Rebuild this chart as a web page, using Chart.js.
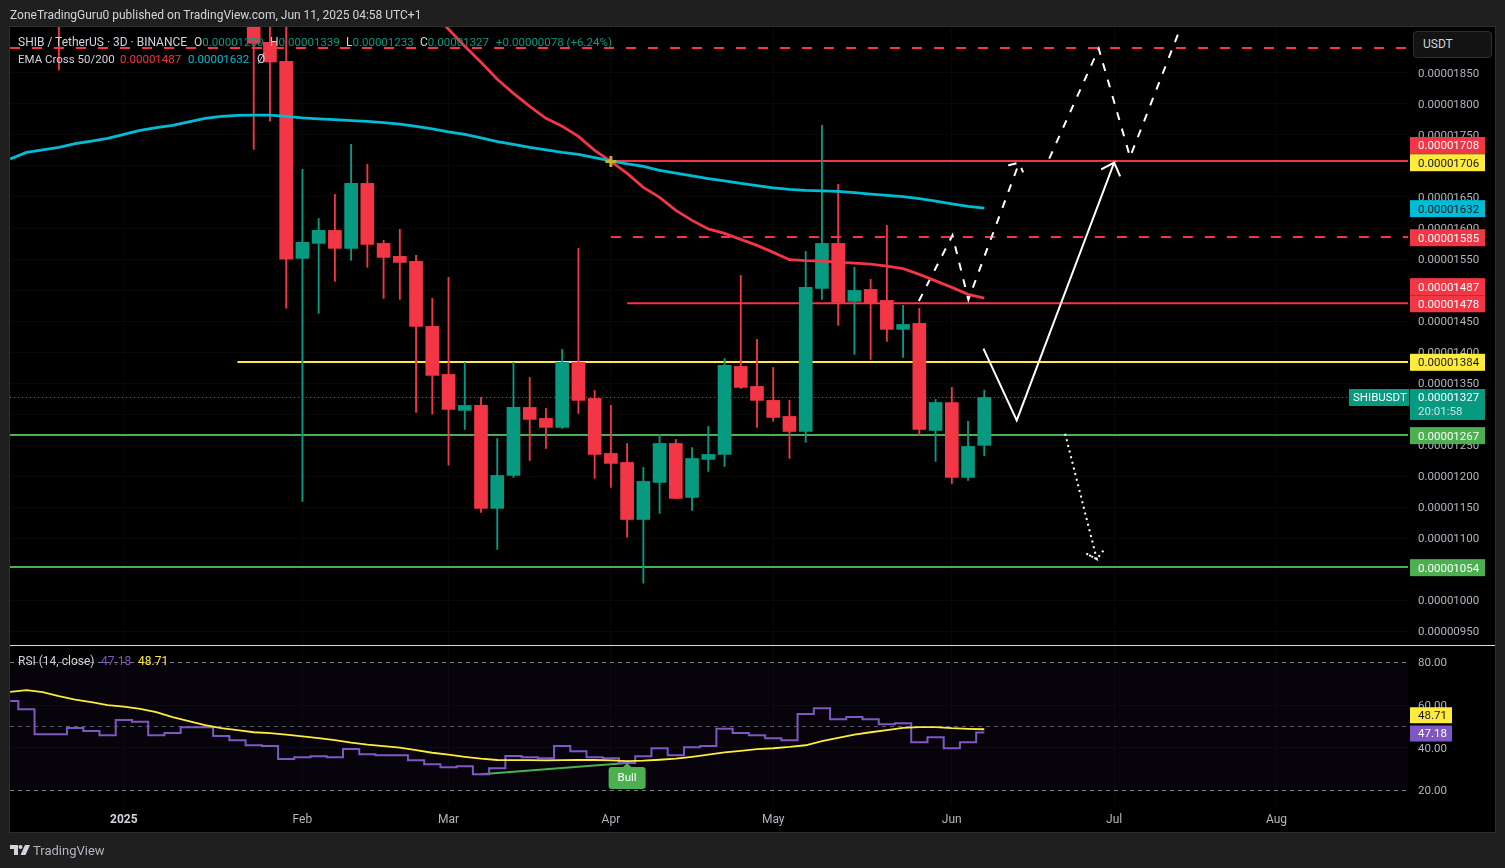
<!DOCTYPE html>
<html>
<head>
<meta charset="utf-8">
<title>SHIB / TetherUS</title>
<script src="https://cdn.jsdelivr.net/npm/chart.js@4"></script>
<style>
  html, body { margin: 0; padding: 0; background: #1f1f1f; width: 1505px; height: 868px; overflow: hidden; font-family: Roboto, sans-serif; }
  #frame { position: absolute; left: 9px; top: 26px; width: 1485px; height: 805px; background: #000; border: 1px solid #2e2e2e; }
  #chart { position: absolute; left: 0; top: 0; }
  .t { position: absolute; font-size: 12px; line-height: 14px; white-space: nowrap; color: #d1d4dc; }
  .v { font-size: 11.5px; }
  .g { color: #089981; font-size: 11.5px; }
  #sep { position: absolute; left: 10px; top: 645px; width: 1485px; height: 1px; background: #d9d9d9; }
  #unit { position: absolute; left: 1413px; top: 31px; width: 77px; height: 25px; background: #131313; border: 1px solid #2e2e2e; border-radius: 4px; color: #d1d4dc; font-size: 12px; line-height: 25px; text-indent: 9px; }
</style>
</head>
<body>
<div id="frame"></div>
<canvas id="chart" width="1505" height="868"></canvas>
<div id="sep"></div>
<div id="unit">USDT</div>

<div class="t" style="left:10px;top:8px">ZoneTradingGuru0 published on TradingView.com, Jun 11, 2025 04:58 UTC+1</div>

<div class="t" style="left:18px;top:35px">SHIB / TetherUS · 3D · BINANCE</div>
<div class="t" style="left:194px;top:35px">O<span class="g">0.00001250</span></div>
<div class="t" style="left:270px;top:35px">H<span class="g">0.00001339</span></div>
<div class="t" style="left:346px;top:35px">L<span class="g">0.00001233</span></div>
<div class="t" style="left:420px;top:35px">C<span class="g">0.00001327</span></div>
<div class="t g" style="left:496px;top:35px">+0.00000078 (+6.24%)</div>

<div class="t v" style="left:18px;top:52px">EMA Cross 50/200</div>
<div class="t v" style="left:120px;top:52px;color:#f23645">0.00001487</div>
<div class="t v" style="left:188px;top:52px;color:#00bcd4">0.00001632</div>
<div class="t" style="left:257px;top:52px">Ø</div>

<div class="t" style="left:18px;top:654px">RSI (14, close)</div>
<div class="t" style="left:101px;top:654px;color:#7e57c2">47.18</div>
<div class="t" style="left:138px;top:654px;color:#ffeb3b">48.71</div>

<svg style="position:absolute;left:10px;top:845px" width="20" height="10" viewBox="0 0 20 10">
  <path d="M0 0H8V10H4V4H0Z" fill="#d1d4dc"/><circle cx="10.5" cy="2" r="2" fill="#d1d4dc"/><path d="M15 0H20L15.5 10H10.5Z" fill="#d1d4dc"/>
</svg>
<div class="t" style="left:33px;top:844px;font-size:13px;color:#b2b5be">TradingView</div>

<script>
// Prices are in units of 0.00000001, the tick callback turns them back into real quotes.
// Each array has one entry per 3D bar, null where the bar is above the visible range.
const opens = [null, null, null, 2000, null, null, null, null, null, null, null, null, null, null, null,
  1950, 1899.1, 1868.5, 1551.1, 1575.2, 1596.2, 1567.2, 1671.9, 1575.2, 1554.3,
  1546.2, 1441.5, 1364.2, 1306.2, 1314.2, 1148.3, 1201.4, 1311.0, 1293.3, 1278.8,
  1383.5, 1325.5, 1236.9, 1222.4, 1130.5, 1190.2, 1253.0, 1166.0, 1227.2, 1235.3,
  1377.1, 1344.8, 1322.3, 1296.5, 1272.3, 1502.7, 1575.2, 1481.8, 1501.1, 1483.4,
  1436.7, 1446.3, 1273.9, 1319.0, 1198.2, 1250];
const highs = [null, null, null, 2050, null, null, null, null, null, null, null, null, null, null, null,
  1990, 1980, 1960, 1694.5, 1615.5, 1654.2, 1734.8, 1702.6, 1580.1, 1597.8,
  1555.9, 1486.6, 1520.5, 1383.5, 1327.1, 1261.0, 1383.5, 1359.3, 1309.4, 1404.5,
  1567.2, 1338.4, 1314.2, 1253.0, 1214.3, 1267.5, 1259.4, 1246.5, 1280.4, 1389.9,
  1523.7, 1420.6, 1375.4, 1322.3, 1562.3, 1765.4, 1670.3, 1536.6, 1517.2, 1604.3,
  1475.4, 1470.5, 1323.9, 1343.2, 1288.5, 1339];
const lows = [null, null, null, 1854.5, null, null, null, null, null, null, null, null, null, null, null,
  1726.7, 1772.3, 1471.0, 1159.5, 1462.5, 1514.0, 1547.9, 1536.6, 1486.6, 1485.0,
  1302.9, 1300.2, 1218.0, 1275.5, 1141.8, 1082.2, 1198.2, 1225.6, 1244.9, 1277.2,
  1301.3, 1196.6, 1182.1, 1102.0, 1027.9, 1140.2, 1164.4, 1145.0, 1207.9, 1215.9,
  1341.6, 1278.8, 1288.5, 1228.8, 1254.6, 1485.0, 1443.1, 1396.4, 1388.3, 1417.3,
  1391.6, 1265.9, 1224.0, 1188.5, 1193.4, 1233];
const closes = [null, null, null, 1990, null, null, null, null, null, null, null, null, null, null, null,
  1897.5, 1867.4, 1549.9, 1576.9, 1596.2, 1567.2, 1671.9, 1573.6, 1552.7, 1544.6,
  1441.5, 1362.6, 1307.8, 1314.2, 1148.3, 1201.4, 1311.0, 1291.7, 1278.8, 1383.5,
  1322.3, 1235.3, 1220.8, 1130.5, 1191.8, 1253.0, 1164.4, 1228.8, 1235.3, 1378.7,
  1343.2, 1322.3, 1294.9, 1272.3, 1504.3, 1575.2, 1480.2, 1499.5, 1478.6, 1436.7,
  1444.7, 1275.5, 1319.0, 1198.2, 1248.2, 1327];
const ema50 = [null, null, null, null, null, null, null, null, null, null, null, null, null, null, null,
  null, null, null, null, null, null, null, null, null, null,
  1974.9, 1947.5, 1920.1, 1892.7, 1866.9, 1839.5, 1817.0, 1796.0, 1776.7, 1763.8,
  1747.7, 1725.1, 1707.4, 1688.1, 1665.5, 1649.4, 1628.4, 1612.3, 1598.6, 1591.4,
  1581.7, 1572.0, 1560.8, 1549.0, 1547.4, 1546.8, 1545.0, 1543.4, 1541.8, 1538.5,
  1534.5, 1525.3, 1514.8, 1504.4, 1493.1, 1487];
const ema200 = [1711.1, 1721.9, 1725.9, 1730.0, 1735.9, 1739.9, 1744.5, 1750.9, 1757.3, 1761.7,
  1765.4, 1771.0, 1776.7, 1779.9, 1781.5, 1782.0, 1782.0, 1779.9, 1777.5, 1775.9,
  1774.6, 1773.1, 1771.9, 1769.8, 1767.5, 1763.8, 1759.8, 1754.9, 1750.9, 1745.3,
  1739.3, 1734.8, 1730.0, 1725.9, 1721.9, 1718.7, 1713.5, 1708.2, 1703.4, 1699.3,
  1692.9, 1688.4, 1684.0, 1679.7, 1676.0, 1672.0, 1668.2, 1664.7, 1662.3, 1660.7,
  1659.9, 1659.1, 1657.0, 1654.6, 1652.6, 1650.7, 1647.3, 1643.3, 1638.9, 1634.9, 1632];
const rsiValues = [61.9, 58.1, 46.4, 46.4, 49.3, 47.9, 45.9, 53.0, 52.2, 45.9,
  46.9, 49.7, 49.7, 45.5, 43.6, 41.2, 40.8, 34.8, 35.6, 36.1,
  35.6, 39.4, 37.0, 36.5, 36.5, 34.2, 32.3, 30.9, 31.4, 27.6,
  30.4, 36.2, 35.6, 35.1, 40.8, 38.4, 35.6, 35.1, 32.9, 36.1,
  39.8, 36.5, 40.3, 40.8, 48.9, 46.9, 45.9, 44.5, 43.6, 55.8,
  58.6, 53.4, 54.4, 53.4, 51.1, 51.5, 42.6, 45.0, 39.8, 42.6, 47.18];
const rsiMa = [66.2, 67.0, 66.1, 64.2, 62.6, 61.4, 60.0, 59.3, 58.3, 56.7,
  54.4, 52.5, 50.6, 49.2, 48.3, 47.3, 46.9, 46.2, 45.4, 44.5,
  43.6, 42.4, 41.5, 40.8, 40.1, 38.9, 37.7, 36.8, 35.8, 34.9,
  34.3, 34.2, 34.2, 34.1, 34.2, 34.3, 34.3, 34.1, 33.8, 34.0,
  34.4, 34.9, 35.8, 36.8, 37.9, 38.6, 39.4, 39.8, 40.4, 41.2,
  43.1, 44.7, 46.2, 47.3, 48.3, 49.4, 49.7, 49.7, 49.2, 48.9, 48.71];

const priceTicks = [950, 1000, 1050, 1100, 1150, 1200, 1250, 1300, 1350, 1400, 1450, 1500, 1550, 1600, 1650, 1700, 1750, 1800, 1850];
const rsiTicks = [20, 40, 60, 80];
const timeTicks = [7, 18, 27, 37, 47, 58, 68, 78];
const timeLabels = ['2025', 'Feb', 'Mar', 'Apr', 'May', 'Jun', 'Jul', 'Aug'];

// Drawn trend lines: bar index and price of each vertex
const solidArrowBars = [59.95, 62.0, 68.0, 67.2, 68.0, 68.37];
const solidArrowPrices = [1405.6, 1290.1, 1705.3, 1694.5, 1705.3, 1683.2];
const dashedArrowBars = [55.97, 58.04, 59.02, 62.15, 61.22, 62.15, 62.39];
const dashedArrowPrices = [1482.3, 1588.1, 1484.5, 1705.3, 1699.3, 1705.3, 1689.7];
const dashedZigzagBars = [64.0, 67.05, 68.98, 72.99];
const dashedZigzagPrices = [1711.7, 1889, 1714.3, 1982.9];
const dottedArrowBars = [64.98, 66.93, 66.27, 66.93, 67.34];
const dottedArrowPrices = [1268.6, 1066.6, 1075.8, 1066.6, 1080.6];

const UP = '#089981';
const DOWN = '#f23645';
const YELLOW = '#ffeb3b';
const LEVEL_GREEN = '#4caf50';
const GRID = '#080808';
const X_MIN = -0.012, X_MAX = 86.1;

Chart.defaults.font.family = "Roboto, sans-serif";
Chart.defaults.font.size = 11.5;
Chart.defaults.color = '#b2b5be';

const barsWithData = opens.map((o, i) => i).filter(i => opens[i] !== null);

function seriesPoints(values) {
  return values.map((y, x) => ({ x, y })).filter(p => p.y !== null);
}
function pathPoints(xs, ys) {
  return xs.map((x, i) => ({ x, y: ys[i] }));
}
function lineSet(data, color, width, extra) {
  return Object.assign({ type: 'line', data, borderColor: color, borderWidth: width, pointRadius: 0, yAxisID: 'y', order: 1 }, extra);
}
function hLine(value, from, to, color, dash, width) {
  return lineSet(pathPoints([from, to], [value, value]), color, width || 2, { borderDash: dash || [], order: 4 });
}

const datasets = [
  // candles, wick and body as two floating bar sets
  {
    type: 'bar', order: 3, grouped: false, barThickness: 1.2, borderWidth: 0, yAxisID: 'y',
    data: barsWithData.map(i => ({ x: i, y: [lows[i], highs[i]] })),
    backgroundColor: barsWithData.map(i => closes[i] >= opens[i] ? UP : DOWN)
  },
  {
    type: 'bar', order: 2, grouped: false, barThickness: 13, borderWidth: 0, yAxisID: 'y',
    data: barsWithData.map(i => ({ x: i, y: [opens[i], closes[i]] })),
    backgroundColor: barsWithData.map(i => closes[i] >= opens[i] ? UP : DOWN)
  },

  // horizontal levels
  hLine(1890, X_MIN, X_MAX - 0.1, DOWN, [10, 12]),
  hLine(1708, 37, X_MAX, DOWN),
  hLine(1585.5, 37, X_MAX, DOWN, [10, 12]),
  hLine(1479, 38, X_MAX, DOWN),
  hLine(1384.2, 14, X_MAX, YELLOW),
  hLine(1266.7, X_MIN, X_MAX, LEVEL_GREEN),
  hLine(1054, X_MIN, X_MAX, LEVEL_GREEN),
  hLine(1327, X_MIN, 82.4, UP, [1, 3], 1),

  // EMA cross
  lineSet(seriesPoints(ema200), '#00bcd4', 2.8),
  lineSet(seriesPoints(ema50), DOWN, 2.8),
  lineSet(pathPoints([37], [1707]), '#c4b32f', 0, { showLine: false, pointStyle: 'cross', pointRadius: 5.5, pointBorderWidth: 3, pointBorderColor: '#c4b32f', order: 0 }),

  // hand drawn projections
  lineSet(pathPoints(solidArrowBars, solidArrowPrices), '#ffffff', 2),
  lineSet(pathPoints(dashedArrowBars, dashedArrowPrices), '#ffffff', 2, { borderDash: [8, 9] }),
  lineSet(pathPoints(dashedZigzagBars, dashedZigzagPrices), '#ffffff', 2, { borderDash: [8, 9] }),
  lineSet(pathPoints(dottedArrowBars, dottedArrowPrices), '#ffffff', 2, { borderDash: [2, 3.8] }),

  // RSI pane
  lineSet(pathPoints([X_MIN, X_MAX], [80, 80]), '#787b86', 1, { yAxisID: 'rsi', borderDash: [4, 4], fill: { value: 20 }, backgroundColor: 'rgba(126, 87, 194, 0.05)', order: 6 }),
  lineSet(pathPoints([X_MIN, X_MAX], [50, 50]), '#5d606b', 1, { yAxisID: 'rsi', borderDash: [4, 4], order: 6 }),
  lineSet(pathPoints([X_MIN, X_MAX], [20, 20]), '#787b86', 1, { yAxisID: 'rsi', borderDash: [4, 4], order: 6 }),
  lineSet(seriesPoints(rsiValues), '#7e57c2', 2, { yAxisID: 'rsi', stepped: 'middle', order: 2 }),
  lineSet(seriesPoints(rsiMa), YELLOW, 1.8, { yAxisID: 'rsi', order: 1 }),
  lineSet(pathPoints([29, 38], [27.6, 32.9]), LEVEL_GREEN, 2, { yAxisID: 'rsi', order: 3 })
];

// tags on the price axis, nudge moves a tag away from its neighbour like TradingView does
const priceTags = [
  { value: 1478, text: '0.00001478', bg: DOWN, fg: '#fff', nudge: 0 },
  { value: 1487, text: '0.00001487', bg: DOWN, fg: '#fff', nudge: -11.5 },
  { value: 1708, text: '0.00001708', bg: DOWN, fg: '#fff', nudge: -15.5 },
  { value: 1706, text: '0.00001706', bg: YELLOW, fg: '#131722', nudge: 0.5 },
  { value: 1632, text: '0.00001632', bg: '#00bcd4', fg: '#131722', nudge: 0.5 },
  { value: 1585, text: '0.00001585', bg: DOWN, fg: '#fff', nudge: 0.4 },
  { value: 1384, text: '0.00001384', bg: YELLOW, fg: '#131722', nudge: 0.2 },
  { value: 1267, text: '0.00001267', bg: LEVEL_GREEN, fg: '#fff', nudge: 0.9 },
  { value: 1054, text: '0.00001054', bg: LEVEL_GREEN, fg: '#fff', nudge: 0.7 }
];
const rsiTags = [
  { value: 48.71, text: '48.71', bg: YELLOW, fg: '#131722', nudge: -14 },
  { value: 47.18, text: '47.18', bg: '#7e57c2', fg: '#fff', nudge: 1 }
];

const tagsPlugin = {
  id: 'tags',
  afterDraw(chart) {
    const { ctx, scales } = chart;
    const left = scales.y.left + 2;
    ctx.save();
    ctx.textBaseline = 'middle';
    ctx.font = '11.5px Roboto, sans-serif';

    priceTags.forEach(t => {
      const py = scales.y.getPixelForValue(t.value) + t.nudge;
      ctx.fillStyle = t.bg;
      ctx.fillRect(left, py - 8.5, 75, 17);
      ctx.fillStyle = t.fg;
      ctx.fillText(t.text, left + 8, py + 1);
    });

    // last price with countdown and the symbol tag
    const lastY = scales.y.getPixelForValue(closes[closes.length - 1]);
    ctx.fillStyle = UP;
    ctx.fillRect(left, lastY - 8.5, 75, 31);
    ctx.fillRect(scales.y.left - 59, lastY - 8.5, 60, 17);
    ctx.fillStyle = '#fff';
    ctx.fillText('0.00001327', left + 8, lastY + 1);
    ctx.fillText('SHIBUSDT', scales.y.left - 55, lastY + 1);
    ctx.fillStyle = 'rgba(255,255,255,0.75)';
    ctx.fillText('20:01:58', left + 8, lastY + 15);

    rsiTags.forEach(t => {
      const py = scales.rsi.getPixelForValue(t.value) + t.nudge;
      ctx.fillStyle = t.bg;
      ctx.fillRect(left, py - 8, 42, 16);
      ctx.fillStyle = t.fg;
      ctx.fillText(t.text, left + 8, py + 1);
    });

    // Bull divergence flag
    const bx = scales.x.getPixelForValue(38);
    const by = scales.rsi.getPixelForValue(32.9);
    ctx.fillStyle = LEVEL_GREEN;
    ctx.beginPath();
    ctx.moveTo(bx, by);
    ctx.lineTo(bx + 5, by + 5);
    ctx.lineTo(bx - 5, by + 5);
    ctx.closePath();
    ctx.fill();
    ctx.beginPath();
    ctx.roundRect(bx - 18.5, by + 4, 37, 22, 3);
    ctx.fill();
    ctx.fillStyle = '#fff';
    ctx.textAlign = 'center';
    ctx.fillText('Bull', bx, by + 15.5);
    ctx.restore();
  }
};

function fixWidth(scale) {
  scale.width = 87;
  scale.paddingTop = 0;
  scale.paddingBottom = 0;
}

new Chart(document.getElementById('chart').getContext('2d'), {
  type: 'bar',
  data: { datasets },
  plugins: [tagsPlugin],
  options: {
    responsive: false,
    devicePixelRatio: 1,
    animation: false,
    events: [],
    layout: { padding: { left: 10, top: 27, right: 10, bottom: 36 } },
    plugins: { legend: { display: false }, tooltip: { enabled: false } },
    scales: {
      x: {
        type: 'linear',
        min: X_MIN,
        max: X_MAX,
        offset: false,
        grid: { color: GRID, drawTicks: false, offset: false },
        border: { display: false },
        afterBuildTicks: s => { s.ticks = timeTicks.map(value => ({ value })); },
        afterFit: s => { s.height = 27; s.paddingLeft = 0; s.paddingRight = 0; },
        ticks: {
          autoSkip: false,
          maxRotation: 0,
          padding: 8,
          callback: v => timeLabels[timeTicks.indexOf(v)],
          font: c => (c.tick && c.tick.value === timeTicks[0]) ? { weight: 'bold', size: 12 } : { size: 12 },
          color: c => (c.tick && c.tick.value === timeTicks[0]) ? '#d1d4dc' : '#b2b5be'
        }
      },
      y: {
        type: 'linear',
        position: 'right',
        stack: 'panes',
        stackWeight: 618,
        min: 928.3,
        max: 1923.8,
        grid: { color: GRID, drawTicks: false },
        border: { display: false },
        afterBuildTicks: s => { s.ticks = priceTicks.map(value => ({ value })); },
        afterFit: fixWidth,
        ticks: { padding: 10, autoSkip: false, labelOffset: 1, callback: v => (v / 1e8).toFixed(8) }
      },
      rsi: {
        type: 'linear',
        position: 'right',
        stack: 'panes',
        stackWeight: 160,
        min: 13.2,
        max: 88.2,
        grid: { color: GRID, drawTicks: false },
        border: { display: false },
        afterBuildTicks: s => { s.ticks = rsiTicks.map(value => ({ value })); },
        afterFit: fixWidth,
        ticks: { padding: 10, autoSkip: false, labelOffset: 1, callback: v => v.toFixed(2) }
      }
    }
  }
});
</script>
</body>
</html>
